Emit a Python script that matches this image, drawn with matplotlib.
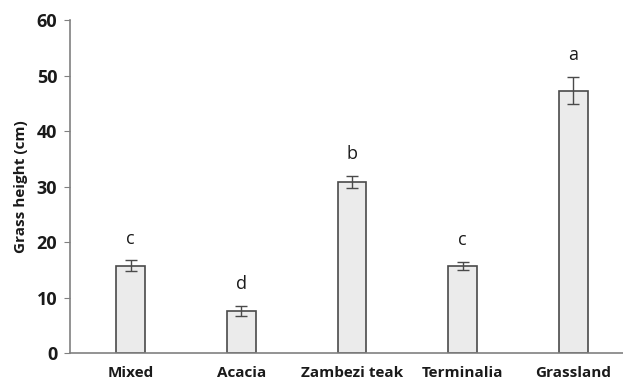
import matplotlib
matplotlib.use("Agg")
import matplotlib.pyplot as plt

categories = ["Mixed", "Acacia", "Zambezi teak", "Terminalia", "Grassland"]
heights = [15.7, 7.6, 30.8, 15.7, 47.3]
errors = [1.0, 0.9, 1.1, 0.7, 2.5]
letters = ["c", "d", "b", "c", "a"]
yticks = [0, 10, 20, 30, 40, 50, 60]

plt.rcParams['font.family'] = ['Open Sans', 'DejaVu Sans']

fig = plt.figure(figsize=(6.23, 3.85), dpi=100)
ax = fig.add_axes([0.112, 0.083, 0.888, 0.865])

x = list(range(len(categories)))
ax.bar(x, heights, width=0.26, color="#ebebeb", edgecolor="#4a4a4a", linewidth=1.2,
       yerr=errors, error_kw=dict(ecolor="#4a4a4a", elinewidth=1.0, capsize=4, capthick=1.0))
for xi, h, e, l in zip(x, heights, errors, letters):
    ax.text(xi, h + e + 3.9, l, ha="center", va="center", fontsize=13, color="#1a1a1a")

ax.set_xlim(-0.55, 4.45)
ax.set_ylim(0, 60)
ax.set_yticks(yticks)
ax.set_xticks(x)
ax.set_xticklabels(categories, fontsize=11, fontweight="bold", color="#1a1a1a")
ax.tick_params(axis="x", length=0, pad=9)
ax.tick_params(axis="y", length=4, color="#808080", labelsize=13, labelcolor="#1a1a1a", pad=5)
for lab in ax.get_yticklabels():
    lab.set_fontweight("bold")
ax.set_ylabel("Grass height (cm)", fontsize=11, fontweight="bold", color="#1a1a1a", labelpad=6)
for s in ["top", "right"]:
    ax.spines[s].set_visible(False)
ax.spines["left"].set_color("#808080")
ax.spines["bottom"].set_color("#808080")
ax.spines["left"].set_linewidth(1.2)
ax.spines["bottom"].set_linewidth(1.2)

fig.savefig("out.png", dpi=100)
